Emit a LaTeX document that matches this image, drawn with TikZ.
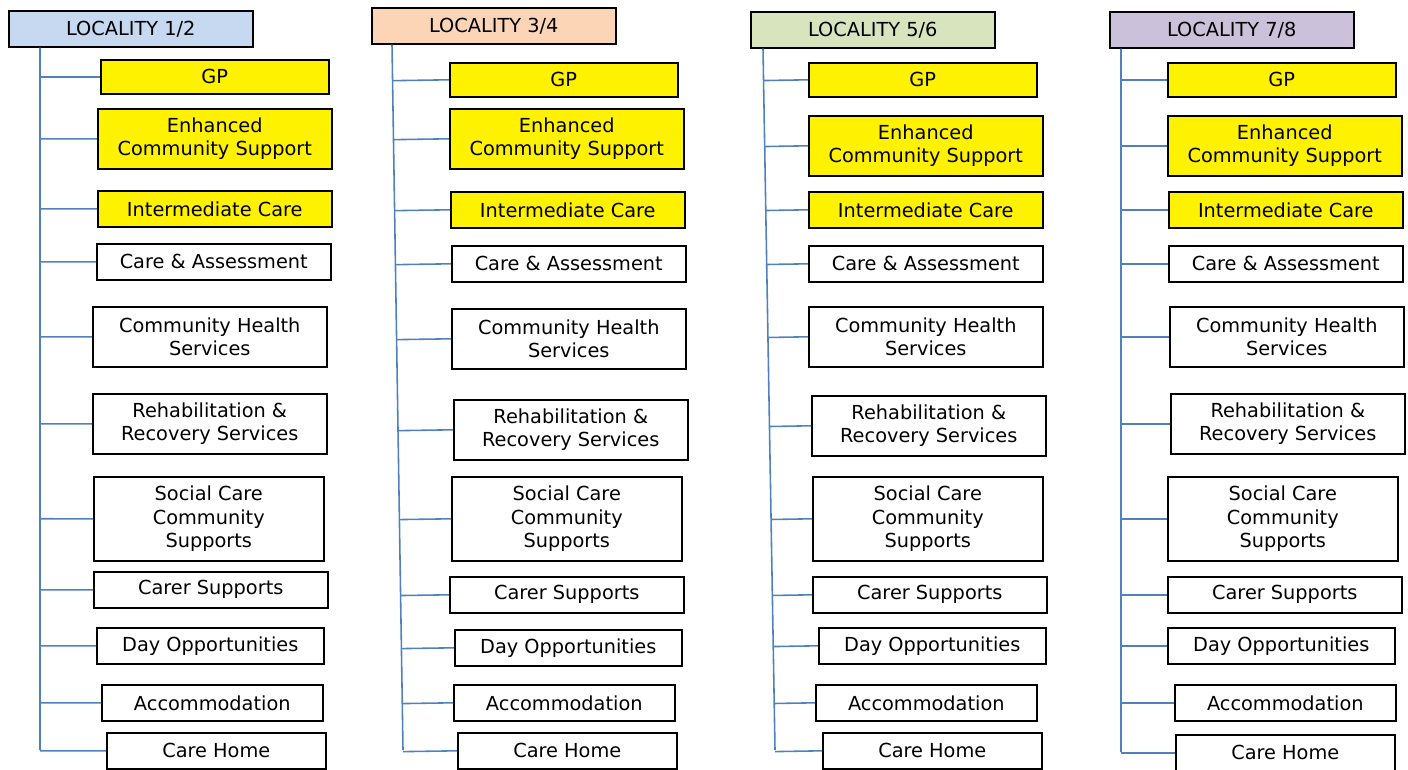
\documentclass[tikz,border=0pt]{standalone}
\usepackage{fontspec}
\setmainfont{DejaVu Sans}
\usetikzlibrary{positioning, calc}

\definecolor{locblue}{HTML}{C6D9F1}
\definecolor{locpeach}{HTML}{FBD5B5}
\definecolor{locgreen}{HTML}{D7E4BD}
\definecolor{loclilac}{HTML}{CCC1DA}
\definecolor{linkblue}{HTML}{4F81BD}

\begin{document}
\begin{tikzpicture}[
	x=0.02cm, y=-0.02cm,
	every node/.style={font=\fontsize{11}{13.5}\selectfont},
	box/.style={rectangle, draw, line width=0.9pt, anchor=north west, align=center, inner sep=1pt, minimum width=4.68cm, minimum height=0.72cm},
	header/.style={box, minimum width=4.88cm},
	key/.style={box, fill=yellow},
	service/.style={box, fill=white},
	gpbox/.style={key, minimum width=4.56cm, minimum height=0.68cm},
	twoline/.style={minimum height=1.2cm},
	threeline/.style={minimum height=1.68cm, minimum width=4.6cm},
	daybox/.style={service, minimum width=4.54cm},
	accbox/.style={service, minimum width=4.42cm},
	homebox/.style={service, minimum width=4.38cm},
	branch/.style={draw=linkblue, line width=0.9pt}
]
	\useasboundingbox (0,0) rectangle (1408,769);

	% locality 1/2
	\node[header, fill=locblue] (loc1) at (8,10) {LOCALITY 1/2};
	\node[gpbox] (gp1) at (100,59) {GP};
	\node[key, twoline] (ecs1) at (97,108) {Enhanced\\Community Support};
	\node[key] (ic1) at (97,190) {Intermediate Care};
	\node[service] (ca1) at (96,243) {Care \& Assessment};
	\node[service, twoline] (chs1) at (92,306) {Community Health\\Services};
	\node[service, twoline] (rr1) at (92,393) {Rehabilitation \&\\Recovery Services};
	\node[service, threeline] (sc1) at (93,476) {Social Care\\Community\\Supports};
	\node[service] (cs1) at (93,571) {Carer Supports};
	\node[daybox] (day1) at (96,627) {Day Opportunities};
	\node[accbox] (acc1) at (101,684) {Accommodation};
	\node[homebox] (home1) at (106,732) {Care Home};

	% locality 3/4
	\node[header, fill=locpeach] (loc2) at (371,7) {LOCALITY 3/4};
	\node[gpbox] (gp2) at (449,62) {GP};
	\node[key, twoline] (ecs2) at (449,108) {Enhanced\\Community Support};
	\node[key] (ic2) at (450,191) {Intermediate Care};
	\node[service] (ca2) at (451,245) {Care \& Assessment};
	\node[service, twoline] (chs2) at (451,308) {Community Health\\Services};
	\node[service, twoline] (rr2) at (453,399) {Rehabilitation \&\\Recovery Services};
	\node[service, threeline] (sc2) at (451,476) {Social Care\\Community\\Supports};
	\node[service] (cs2) at (449,576) {Carer Supports};
	\node[daybox] (day2) at (454,629) {Day Opportunities};
	\node[accbox] (acc2) at (453,684) {Accommodation};
	\node[homebox] (home2) at (457,732) {Care Home};

	% locality 5/6
	\node[header, fill=locgreen] (loc3) at (750,11) {LOCALITY 5/6};
	\node[gpbox] (gp3) at (808,62) {GP};
	\node[key, twoline] (ecs3) at (808,115) {Enhanced\\Community Support};
	\node[key] (ic3) at (808,191) {Intermediate Care};
	\node[service] (ca3) at (808,245) {Care \& Assessment};
	\node[service, twoline] (chs3) at (808,306) {Community Health\\Services};
	\node[service, twoline] (rr3) at (811,395) {Rehabilitation \&\\Recovery Services};
	\node[service, threeline] (sc3) at (812,476) {Social Care\\Community\\Supports};
	\node[service] (cs3) at (812,576) {Carer Supports};
	\node[daybox] (day3) at (818,627) {Day Opportunities};
	\node[accbox] (acc3) at (815,684) {Accommodation};
	\node[homebox] (home3) at (822,732) {Care Home};

	% locality 7/8
	\node[header, fill=loclilac] (loc4) at (1109,11) {LOCALITY 7/8};
	\node[gpbox] (gp4) at (1167,62) {GP};
	\node[key, twoline] (ecs4) at (1167,115) {Enhanced\\Community Support};
	\node[key] (ic4) at (1168,191) {Intermediate Care};
	\node[service] (ca4) at (1168,245) {Care \& Assessment};
	\node[service, twoline] (chs4) at (1169,306) {Community Health\\Services};
	\node[service, twoline] (rr4) at (1170,393) {Rehabilitation \&\\Recovery Services};
	\node[service, threeline] (sc4) at (1167,476) {Social Care\\Community\\Supports};
	\node[service] (cs4) at (1167,576) {Carer Supports};
	\node[daybox] (day4) at (1167,627) {Day Opportunities};
	\node[accbox] (acc4) at (1174,684) {Accommodation};
	\node[homebox] (home4) at (1175,734) {Care Home};

	% trunks
	\coordinate (t1) at ([xshift=0.64cm]loc1.south west);
	\coordinate (t2) at ([xshift=0.42cm]loc2.south west);
	\coordinate (t3) at ([xshift=0.26cm]loc3.south west);
	\coordinate (t4) at ([xshift=0.24cm]loc4.south west);
	\coordinate (b1) at (40,750);
	\coordinate (b2) at (403,750);
	\coordinate (b3) at (775,750);
	\coordinate (b4) at (1121,752);
	\foreach \c in {1,...,4}{
		\draw[branch] (t\c) -- (b\c);
		\foreach \n in {gp,ecs,ic,ca,chs,rr,sc,cs,day,acc,home}
			\draw[branch] ($(t\c)!(\n\c.west)!(b\c)$) -- (\n\c.west);
	}
\end{tikzpicture}
\end{document}
